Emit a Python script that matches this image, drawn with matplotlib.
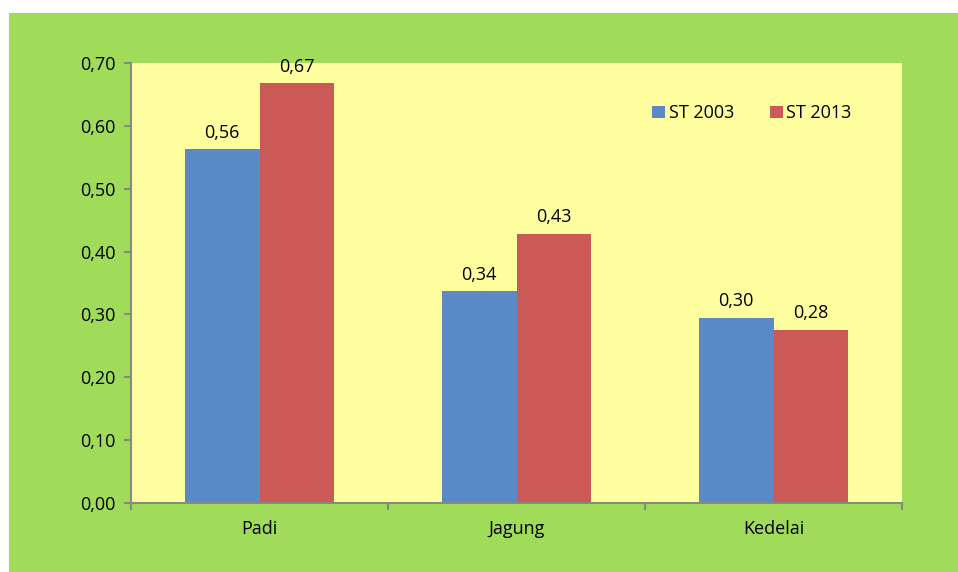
import matplotlib.pyplot as plt
from matplotlib.patches import Rectangle
import numpy as np

categories = ['Padi', 'Jagung', 'Kedelai']
st2003 = [0.563, 0.337, 0.295]
st2013 = [0.668, 0.428, 0.276]
labels2003 = ['0,56', '0,34', '0,30']
labels2013 = ['0,67', '0,43', '0,28']

green = '#A0DC5A'
yellow = '#FFFFA0'
blue = '#5A8AC6'
red = '#CB5A56'

plt.rcParams['font.family'] = ['Open Sans', 'DejaVu Sans']
fs = 13

fig = plt.figure(figsize=(9.58, 5.72), dpi=100)
fig.patch.set_facecolor('white')
fig.patches.append(Rectangle((9 / 958, 0), 1 - 9 / 958, 1 - 13 / 572, transform=fig.transFigure,
                             facecolor=green, edgecolor='none', linewidth=0, zorder=-1))

ax = fig.add_axes([131 / 958, 1 - 503 / 572, 771 / 958, 440 / 572])
ax.set_facecolor(yellow)

x = np.arange(len(categories))
w = 0.29
b1 = ax.bar(x - w / 2, st2003, w, color=blue, label='ST 2003')
b2 = ax.bar(x + w / 2, st2013, w, color=red, label='ST 2013')

for rect, lab in zip(b1, labels2003):
    ax.text(rect.get_x() + rect.get_width() / 2, rect.get_height() + 0.012, lab,
            ha='center', va='bottom', fontsize=fs)
for rect, lab in zip(b2, labels2013):
    ax.text(rect.get_x() + rect.get_width() / 2, rect.get_height() + 0.012, lab,
            ha='center', va='bottom', fontsize=fs)

ax.set_xlim(-0.5, 2.5)
ax.set_ylim(0, 0.70)
yt = np.arange(0, 0.71, 0.10)
ax.set_yticks(yt)
ax.set_yticklabels([f'{v:.2f}'.replace('.', ',') for v in yt], fontsize=fs)
ax.set_xticks(x)
ax.set_xticklabels(categories, fontsize=fs)
ax.set_xticks([-0.5, 0.5, 1.5, 2.5], minor=True)
ax.tick_params(axis='x', which='major', length=0, pad=12)
ax.tick_params(axis='x', which='minor', length=5, color='#888888', width=1.5)
ax.tick_params(axis='y', length=5, color='#888888', width=1.5, pad=6)

for s in ['top', 'right']:
    ax.spines[s].set_visible(False)
for s in ['left', 'bottom']:
    ax.spines[s].set_color('#888888')
    ax.spines[s].set_linewidth(1.5)

ax.legend(loc='upper left', bbox_to_anchor=(0.655, 0.943), ncol=2, frameon=False,
          fontsize=fs, handlelength=0.7, handleheight=0.7, handletextpad=0.2,
          columnspacing=2.0)

fig.savefig('out.png', dpi=100, facecolor=fig.get_facecolor())
